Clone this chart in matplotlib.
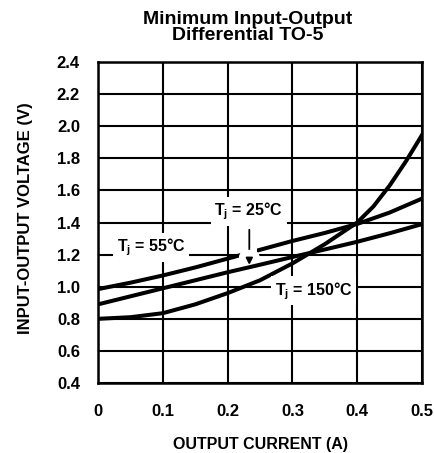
import numpy as np
import matplotlib.pyplot as plt
import matplotlib.patheffects as pe

plt.rcParams['font.family'] = ['Liberation Sans', 'DejaVu Sans']
plt.rcParams['font.weight'] = 'bold'
plt.rcParams['mathtext.default'] = 'regular'

# %% data
current = [0, 0.05, 0.1, 0.15, 0.2, 0.25, 0.3, 0.35, 0.4, 0.45, 0.5]
v_55 = [0.985, 1.025, 1.07, 1.12, 1.175, 1.23, 1.285, 1.335, 1.391, 1.462, 1.549]
v_25 = [0.89, 0.94, 0.99, 1.04, 1.09, 1.137, 1.185, 1.232, 1.28, 1.333, 1.39]
current_150 = [0, 0.05, 0.1, 0.15, 0.2, 0.25, 0.3, 0.35, 0.4, 0.425, 0.45, 0.475, 0.5]
v_150 = [0.80, 0.81, 0.835, 0.89, 0.96, 1.04, 1.145, 1.265, 1.40, 1.50, 1.63, 1.78, 1.945]

xticks = [0, 0.1, 0.2, 0.3, 0.4, 0.5]
xtick_labels = ['0', '0.1', '0.2', '0.3', '0.4', '0.5']
yticks = [0.4, 0.6, 0.8, 1.0, 1.2, 1.4, 1.6, 1.8, 2.0, 2.2, 2.4]
ytick_labels = ['0.4', '0.6', '0.8', '1.0', '1.2', '1.4', '1.6', '1.8', '2.0', '2.2', '2.4']

# %%
fig = plt.figure(figsize=(4.35, 4.53), dpi=100)
ax = fig.add_axes([0.2253, 0.1545, 0.7448, 0.7086])

ax.plot(current, v_55, color='black', lw=2.9, zorder=2)
ax.plot(current, v_25, color='black', lw=2.9, zorder=3)
ax.plot(current_150, v_150, color='black', lw=2.9, zorder=3)

ax.set_xlim(0, 0.5)
ax.set_ylim(0.4, 2.4)
ax.set_xticks(xticks)
ax.set_xticklabels(xtick_labels)
ax.set_yticks(yticks)
ax.set_yticklabels(ytick_labels)
ax.tick_params(axis='both', length=0, labelsize=12)
ax.tick_params(axis='x', pad=15)
ax.tick_params(axis='y', pad=13)
ax.grid(True, color='black', lw=1.5)
ax.set_axisbelow(True)
for s in ax.spines.values():
    s.set_linewidth(1.8)

box = dict(fc='white', ec='none', pad=2.5)
ax.text(0.082, 1.245, 'T$_j$ = 55°C', ha='center', va='center', fontsize=11.5, bbox=box, zorder=4)
ax.text(0.2325, 1.47, 'T$_j$ = 25°C', ha='center', va='center', fontsize=11.5, bbox=box, zorder=4)
ax.text(0.333, 0.975, 'T$_j$ = 150°C', ha='center', va='center', fontsize=11.5, bbox=box, zorder=4)

ax.annotate('', xy=(0.2335, 1.135), xytext=(0.2335, 1.355),
            arrowprops=dict(arrowstyle='-|>', color='black', lw=1.3, mutation_scale=10,
                            shrinkA=0, shrinkB=0,
                            path_effects=[pe.Stroke(linewidth=11, foreground='white'), pe.Normal()]),
            zorder=2.5)

fig.text(0.570, (453 - 11) / 453, 'Minimum Input-Output\nDifferential TO-5', ha='center', va='top',
         fontsize=14, linespacing=0.9)
fig.text(26 / 435, (453 - 218) / 453, 'INPUT-OUTPUT VOLTAGE (V)', rotation=90,
         ha='center', va='center', fontsize=12)
fig.text(261 / 435, (453 - 444) / 453, 'OUTPUT CURRENT (A)', ha='center', va='center', fontsize=11.5)

plt.savefig('out.png', dpi=100)
